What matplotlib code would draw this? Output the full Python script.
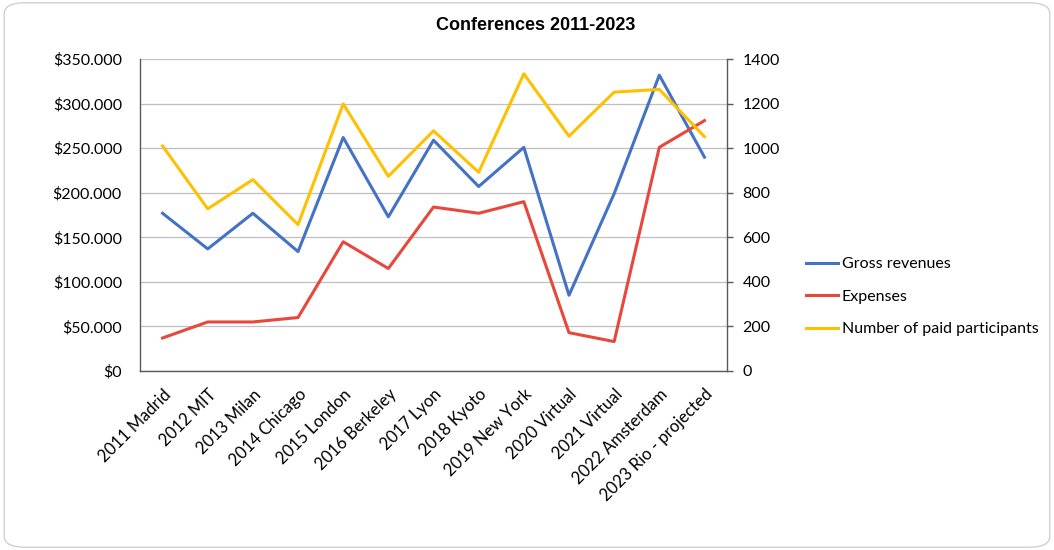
import numpy as np
import matplotlib
matplotlib.use("Agg")
import matplotlib.pyplot as plt
from matplotlib.patches import FancyBboxPatch
from matplotlib.ticker import FuncFormatter, MultipleLocator

# data
categories = ["2011 Madrid", "2012 MIT", "2013 Milan", "2014 Chicago", "2015 London",
              "2016 Berkeley", "2017 Lyon", "2018 Kyoto", "2019 New York", "2020 Virtual",
              "2021 Virtual", "2022 Amsterdam", "2023 Rio - projected"]
gross_revenues = [177000, 137000, 177000, 134000, 262000, 173000, 259000,
                  207000, 251000, 85000, 199000, 332000, 240000]
expenses = [37000, 55000, 55000, 60000, 145000, 115000, 184000,
            177000, 190000, 43000, 33000, 251000, 281000]
participants = [1010, 728, 859, 657, 1199, 874, 1078, 892, 1334, 1054, 1252, 1264, 1052]

plt.rcParams['font.family'] = ['Lato', 'DejaVu Sans']

fig = plt.figure(figsize=(10.54, 5.5), dpi=100)

# rounded chart border
border = FancyBboxPatch((0.004, 0.005), 0.992, 0.99, boxstyle="round,pad=0,rounding_size=0.02",
                        transform=fig.transFigure, facecolor='white', edgecolor='#D0D0D0',
                        linewidth=1.0, zorder=-10)
fig.patches.append(border)

ax = fig.add_axes([0.1328, 0.3255, 0.557, 0.567])
ax.set_facecolor('none')
ax2 = ax.twinx()

x = np.arange(len(categories))
l1, = ax.plot(x, gross_revenues, color='#4472C4', lw=2.2, label='Gross revenues')
l2, = ax.plot(x, expenses, color='#E8473B', lw=2.2, label='Expenses')
l3, = ax2.plot(x, participants, color='#FFC000', lw=2.2, label='Number of paid participants')

ax.set_xlim(-0.5, len(categories) - 0.5)
ax.set_ylim(0, 350000)
ax2.set_ylim(0, 1400)
ax.yaxis.set_major_locator(MultipleLocator(50000))
ax2.yaxis.set_major_locator(MultipleLocator(200))

def dollars(v, pos):
    if v == 0:
        return "$0"
    return "$" + f"{int(v):,}".replace(",", ".")

ax.yaxis.set_major_formatter(FuncFormatter(dollars))
ax.grid(axis='y', color='#BFBFBF', lw=0.9)
ax.set_axisbelow(True)

for a in (ax, ax2):
    a.spines['top'].set_visible(False)
ax.spines['right'].set_visible(False)
ax2.spines['left'].set_visible(False)
ax2.spines['bottom'].set_visible(False)
for s in (ax.spines['left'], ax.spines['bottom'], ax2.spines['right']):
    s.set_color('#595959')
    s.set_linewidth(1.0)

ax.tick_params(axis='y', length=0, pad=13, labelsize=11.5)
ax2.tick_params(axis='y', length=4, width=1.0, color='#595959', pad=7, labelsize=11.5)
ax.set_xticks(x)
ax.set_xticklabels(categories, rotation=45, ha='right', rotation_mode='anchor', fontsize=12)
ax.tick_params(axis='x', length=0, pad=11)

fig.text(0.508, 0.954, "Conferences 2011-2023", ha='center', va='center', fontsize=13,
         fontweight='bold', fontfamily=['Liberation Sans', 'DejaVu Sans'])

fig.legend(handles=[l1, l2, l3], loc='upper left', bbox_to_anchor=(0.751, 0.559),
           frameon=False, fontsize=11.5, handlelength=2.0, handletextpad=0.25,
           labelspacing=1.15)

fig.savefig("out.png", dpi=100)
